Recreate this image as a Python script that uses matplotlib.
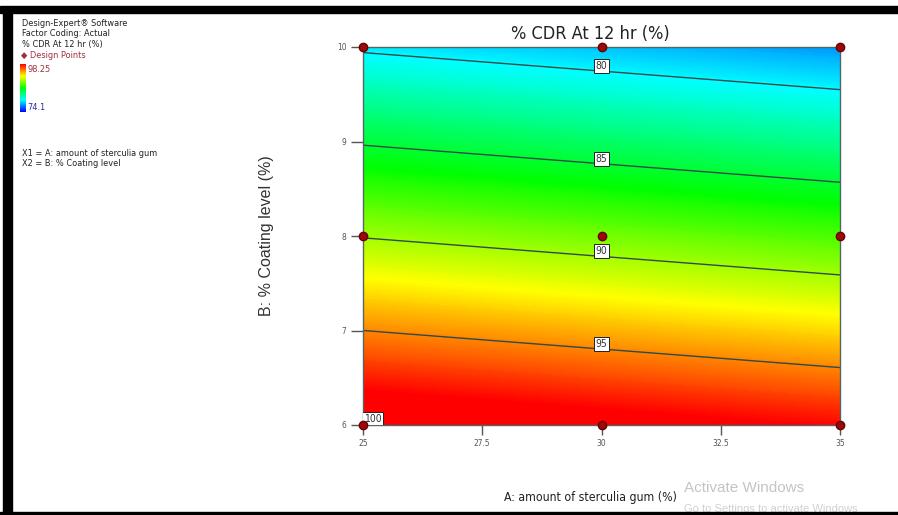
import numpy as np
import matplotlib
matplotlib.use("Agg")
import matplotlib.pyplot as plt
from matplotlib.colors import LinearSegmentedColormap, Normalize
from matplotlib.cm import ScalarMappable
from matplotlib.patches import Rectangle

# --- data ------------------------------------------------------------------
A_levels = [25, 30, 35]                 # amount of sterculia gum (%)
B_levels = [6, 8, 10]                   # % coating level
cdr_pred = [[100.1, 99.1, 98.1],        # predicted % CDR at B = 6
            [89.9, 88.9, 87.9],         # B = 8
            [79.7, 78.7, 77.7]]         # B = 10
contour_levels = [80, 85, 90, 95, 100]
label_spots = [(30, 9.745), (30, 8.76), (30, 7.78), (30, 6.80), (25.2, 6.01)]
design_A = [25, 30, 35, 25, 30, 35, 25, 30, 35]
design_B = [6, 6, 6, 8, 8, 8, 10, 10, 10]
cdr_min, cdr_max = 74.1, 98.25
x_ticks = [25, 27.5, 30, 32.5, 35]
x_ticklabels = ["25", "27.5", "30", "32.5", "35"]
y_ticks = [6, 7, 8, 9, 10]

# condensed face stands in for Arial Narrow
NARROW = dict(family="DejaVu Sans", stretch="condensed")
REG = dict(family=["Liberation Sans", "DejaVu Sans"])

cmap = LinearSegmentedColormap.from_list(
    "dx", [(0.0, "#0000ff"), (0.25, "#00ffff"), (0.5, "#00ff00"),
           (0.75, "#ffff00"), (1.0, "#ff0000")])
norm = Normalize(cdr_min, cdr_max)

fig = plt.figure(figsize=(8.98, 5.15), dpi=100, facecolor="white")
ax = fig.add_axes([363 / 898, 90 / 515, 477 / 898, 378 / 515])

A, B = np.meshgrid(A_levels, B_levels)
Z = np.array(cdr_pred)
ax.contourf(A, B, Z, levels=np.linspace(70, 103, 331), cmap=cmap, norm=norm,
            extend="both", antialiased=False)
cs = ax.contour(A, B, Z, levels=contour_levels, colors="#2f4a4a", linewidths=1.0)
lbls = ax.clabel(cs, inline=False, fmt="%d", manual=label_spots, fontsize=7)
for t in lbls:
    t.set_rotation(0)
    t.set_va("bottom")
    t.set_color("#333333")
    t.set_fontproperties(dict(size=7.5, **NARROW))
    t.set_bbox(dict(facecolor="white", edgecolor="#222222", linewidth=0.7,
                    boxstyle="square,pad=0.2"))
    t.set_zorder(5)

ax.plot(design_A, design_B, "o", ms=6, color="#9b0a0a", mec="#6a0000",
        clip_on=False, zorder=6)

ax.set_xlim(25, 35)
ax.set_ylim(6, 10)
ax.set_xticks(x_ticks)
ax.set_xticklabels(x_ticklabels)
ax.set_yticks(y_ticks)
ax.tick_params(axis="x", length=7, width=1, pad=3, labelsize=6, colors="#555555",
               direction="out")
ax.tick_params(axis="y", length=9, width=1, pad=3, labelsize=6, colors="#555555",
               direction="out")
for lab in ax.get_xticklabels() + ax.get_yticklabels():
    lab.set_fontproperties(dict(size=6, **NARROW))
for sp in ax.spines.values():
    sp.set_color("#556666")
    sp.set_linewidth(1.0)

fig.text(590 / 898, 1 - 34 / 515, "% CDR At 12 hr (%)", fontsize=13,
         color="#222222", ha="center", va="center", **NARROW)
fig.text(590 / 898, 1 - 497 / 515, "A: amount of sterculia gum (%)",
         fontsize=8.8, color="#222222", ha="center", va="center", **NARROW)
fig.text(266 / 898, 1 - 236 / 515, "B: % Coating level (%)", fontsize=11.5,
         color="#333333", ha="center", va="center", rotation=90, **REG)

# left info panel
def px(x, y):
    return x / 898, 1 - y / 515

info = ["Design-Expert® Software", "Factor Coding: Actual", "% CDR At 12 hr (%)"]
for i, s in enumerate(info):
    fig.text(*px(22, 23 + 10.5 * i), s, fontsize=6.6, color="#222222",
             va="center", **NARROW)
fig.text(*px(21, 55), "◆ Design Points", fontsize=6.6, color="#a0303a",
         va="center", **NARROW)
cax = fig.add_axes([20 / 898, 1 - 112 / 515, 6 / 898, 48 / 515])
cb = fig.colorbar(ScalarMappable(norm=norm, cmap=cmap), cax=cax)
cb.set_ticks([])
cb.outline.set_visible(False)
fig.text(*px(27, 69), f"{cdr_max}", fontsize=6.6, color="#a0303a",
         va="center", **NARROW)
fig.text(*px(27, 107), f"{cdr_min}", fontsize=6.6, color="#2a2a9a",
         va="center", **NARROW)
fig.text(*px(22, 153), "X1 = A: amount of sterculia gum", fontsize=6.6,
         color="#222222", va="center", **NARROW)
fig.text(*px(22, 164), "X2 = B: % Coating level", fontsize=6.6,
         color="#222222", va="center", **NARROW)

# screen-capture frame and watermark
fig.patches.append(Rectangle((0, 1 - 13 / 515), 1, 7 / 515, transform=fig.transFigure,
                             color="black", zorder=10))
fig.patches.append(Rectangle((3 / 898, 0), 9 / 898, 1 - 13 / 515,
                             transform=fig.transFigure, color="black", zorder=10))
fig.patches.append(Rectangle((0, 0), 1, 3 / 515, transform=fig.transFigure,
                             color="black", zorder=10))
fig.text(*px(684, 488), "Activate Windows", fontsize=11, color="#c4c4c4",
         va="center", **REG)
fig.text(*px(684, 509), "Go to Settings to activate Windows", fontsize=8,
         color="#d0d0d0", va="center", **REG)

fig.savefig("out.png", dpi=100, facecolor="white")
